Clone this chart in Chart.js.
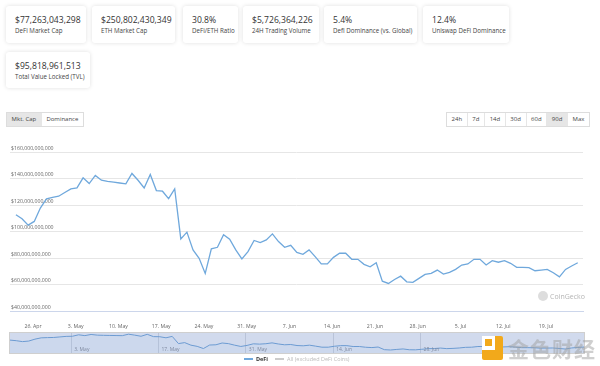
<!DOCTYPE html>
<html>
<head>
<meta charset="utf-8">
<script src="https://cdn.jsdelivr.net/npm/chart.js@4"></script>
<style>
  body { margin: 0; width: 600px; height: 366px; overflow: hidden; background: #fff; font-family: "Open Sans", "Noto Sans", sans-serif; color: #333; position: relative; }
  .card { position: absolute; background: #fff; border-radius: 3px; box-shadow: 0 0 4px rgba(0,0,0,0.13); box-sizing: border-box; padding: 9px 0 0 9px; }
  .card .val { font-size: 8.6px; line-height: 11px; color: #333; }
  .card .lbl { font-size: 6.2px; line-height: 9px; color: #444; }
  .btns { position: absolute; display: flex; border: 1px solid #ddd; font-size: 6px; color: #444; }
  .btns div { padding: 0 4.6px; line-height: 13px; border-left: 1px solid #e6e6e6; }
  .btns div:first-child { border-left: none; }
  .btns .on { background: #e6e6e6; }
  canvas { position: absolute; }
  .legend { position: absolute; top: 355px; left: 244px; font-size: 5.5px; display: flex; align-items: center; }
  .legend i { display: inline-block; width: 9px; height: 1.5px; margin-right: 3px; }
  .cg { position: absolute; left: 538px; top: 291px; font-size: 7px; color: #b5b5b5; display: flex; align-items: center; }
  .cg b { display: inline-block; width: 10px; height: 10px; border-radius: 50%; background: #ddd; margin-right: 2px; }
  .jin { position: absolute; left: 482px; top: 333px; display: flex; align-items: center; }
  .logo { width: 21px; height: 24px; background: #f2a91b; position: relative; margin-right: 5px; border-radius: 2px; }
  .logo::after { content: ""; position: absolute; left: 0; top: 0; width: 13px; height: 14px; background: #fff; }
  .logo::before { content: ""; position: absolute; left: 3px; top: 3px; width: 7px; height: 7px; background: #f2a91b; z-index: 1; }
  .jin span { font-family: "Noto Sans CJK SC"; font-size: 21px; color: rgba(160,160,160,0.5); letter-spacing: 1px; font-weight: bold; }
</style>
</head>
<body>
<div class="card" style="left:6px;top:6px;width:80px;height:37px"><div class="val">$77,263,043,298</div><div class="lbl">DeFi Market Cap</div></div>
<div class="card" style="left:92px;top:6px;width:83px;height:37px"><div class="val">$250,802,430,349</div><div class="lbl">ETH Market Cap</div></div>
<div class="card" style="left:183px;top:6px;width:55px;height:37px"><div class="val">30.8%</div><div class="lbl">DeFi/ETH Ratio</div></div>
<div class="card" style="left:243px;top:6px;width:76px;height:37px"><div class="val">$5,726,364,226</div><div class="lbl">24H Trading Volume</div></div>
<div class="card" style="left:324px;top:6px;width:93px;height:37px"><div class="val">5.4%</div><div class="lbl">Defi Dominance (vs. Global)</div></div>
<div class="card" style="left:423px;top:6px;width:86px;height:37px"><div class="val">12.4%</div><div class="lbl">Uniswap DeFi Dominance</div></div>
<div class="card" style="left:6px;top:52px;width:84px;height:36px"><div class="val">$95,818,961,513</div><div class="lbl">Total Value Locked (TVL)</div></div>

<div class="btns" style="left:6px;top:112px"><div class="on">Mkt. Cap</div><div>Dominance</div></div>
<div class="btns" style="left:446px;top:112px"><div>24h</div><div>7d</div><div>14d</div><div>30d</div><div>60d</div><div class="on">90d</div><div>Max</div></div>

<canvas id="main" width="600" height="190" style="left:0;top:140px"></canvas>
<canvas id="nav" width="574" height="20" style="left:10px;top:333px;outline:1px solid #cfcfcf"></canvas>

<div class="cg"><b></b>CoinGecko</div>
<div class="legend"><i style="background:#6fa8dc"></i><b style="color:#333">DeFi</b><i style="background:#ccc;margin-left:7px"></i><span style="color:#bbb">All (excluded DeFi Coins)</span></div>
<div class="jin"><div class="logo"></div><span>金色财经</span></div>

<script>
// DeFi market cap, daily, in billions USD (starts ~23 Apr)
const defiCap = [
  112.7, 109.6, 104.8, 107.6, 117.7, 124.6, 125.8, 126.6, 129.4, 132.2,
  132.9, 140.5, 136.2, 142.3, 138.7, 137.8, 137.2, 136.6, 136.0, 143.8,
  138.7, 132.9, 143.0, 130.9, 130.4, 124.8, 132.2, 94.4, 99.5, 86.1,
  79.8, 68.4, 86.9, 88.1, 97.5, 94.2, 86.1, 79.3, 84.8, 93.2,
  91.6, 93.7, 98.2, 92.4, 88.1, 89.6, 84.2, 82.8, 86.1, 81.0,
  75.5, 75.5, 80.5, 83.6, 83.6, 79.0, 79.0, 75.2, 73.4, 76.4,
  62.5, 60.8, 63.8, 66.3, 62.0, 61.6, 64.6, 67.6, 68.4, 70.9,
  67.9, 69.2, 71.4, 74.7, 75.5, 79.0, 79.0, 74.7, 78.0, 76.8,
  78.0, 76.0, 73.0, 73.0, 72.7, 70.4, 70.9, 71.4, 68.9, 65.8,
  71.4, 74.0, 76.4
];
const firstDay = -2.8; // days relative to 26. Apr
const tickDays = [0, 7, 14, 21, 28, 35, 42, 49, 56, 63, 70, 77, 84];
const tickLabels = ['26. Apr', '3. May', '10. May', '17. May', '24. May', '31. May', '7. Jun', '14. Jun', '21. Jun', '28. Jun', '5. Jul', '12. Jul', '19. Jul'];
const navDays = [7, 21, 35, 49, 63];
const navLabels = ['3. May', '17. May', '31. May', '14. Jun', '28. Jun'];
const yTicks = [40, 60, 80, 100, 120, 140, 160];

const points = defiCap.map((v, i) => ({ x: firstDay + i, y: v }));
const tickFont = { family: 'Open Sans', size: 5.2 };

new Chart(document.getElementById('main'), {
  type: 'line',
  data: { datasets: [{ label: 'DeFi', data: points, borderColor: '#6fa8dc', borderWidth: 1.3, pointRadius: 0, tension: 0 }] },
  options: {
    responsive: false,
    animation: false,
    layout: { padding: { left: 10, right: 17, top: 12, bottom: 0 } },
    plugins: { legend: { display: false }, tooltip: { enabled: false } },
    scales: {
      x: {
        type: 'linear', min: -3.77, max: 90.06,
        afterBuildTicks: s => { s.ticks = tickDays.map(v => ({ value: v })) },
        afterFit: s => { s.height = 19 },
        ticks: { callback: (v, i) => tickLabels[i], font: tickFont, color: '#666', maxRotation: 0, autoSkip: false, padding: 4 },
        grid: { display: false },
        border: { color: '#ccd6eb' }
      },
      y: {
        min: 40, max: 160,
        afterBuildTicks: s => { s.ticks = yTicks.map(v => ({ value: v })) },
        afterFit: s => { s.width = 0 },
        ticks: { mirror: true, padding: 1, labelOffset: -3.5, font: tickFont, color: '#666',
          callback: v => '$' + (v * 1e9).toLocaleString('en-US') },
        grid: { color: '#e6e6e6', drawTicks: false },
        border: { display: false }
      }
    }
  }
});

const navText = {
  id: 'navText',
  beforeDraw(chart) {
    const { ctx, chartArea: a } = chart;
    ctx.save();
    ctx.fillStyle = 'rgba(102,133,194,0.3)';
    ctx.fillRect(a.left, a.top, a.right - a.left, a.bottom - a.top);
    ctx.restore();
  },
  afterDraw(chart) {
    const { ctx, chartArea: a, scales } = chart;
    ctx.save();
    ctx.font = '5px "Open Sans"';
    ctx.fillStyle = '#7f8aa0';
    ctx.textBaseline = 'bottom';
    navDays.forEach((d, i) => ctx.fillText(navLabels[i], scales.x.getPixelForValue(d) + 3, a.bottom - 1));
    ctx.restore();
  }
};

new Chart(document.getElementById('nav'), {
  type: 'line',
  data: { datasets: [{ data: points, borderColor: '#6c9bd2', borderWidth: 1, pointRadius: 0, tension: 0, fill: true, backgroundColor: 'rgba(124,181,236,0.06)' }] },
  options: {
    responsive: false,
    animation: false,
    layout: { padding: 0 },
    plugins: { legend: { display: false }, tooltip: { enabled: false } },
    scales: {
      x: {
        type: 'linear', min: firstDay, max: firstDay + defiCap.length - 1,
        afterBuildTicks: s => { s.ticks = navDays.map(v => ({ value: v })) },
        afterFit: s => { s.height = 0 },
        ticks: { display: false },
        grid: { color: '#b9c3d8', drawTicks: false },
        border: { display: false }
      },
      y: { display: false, min: 45, max: 150 }
    }
  },
  plugins: [navText]
});
</script>
</body>
</html>
